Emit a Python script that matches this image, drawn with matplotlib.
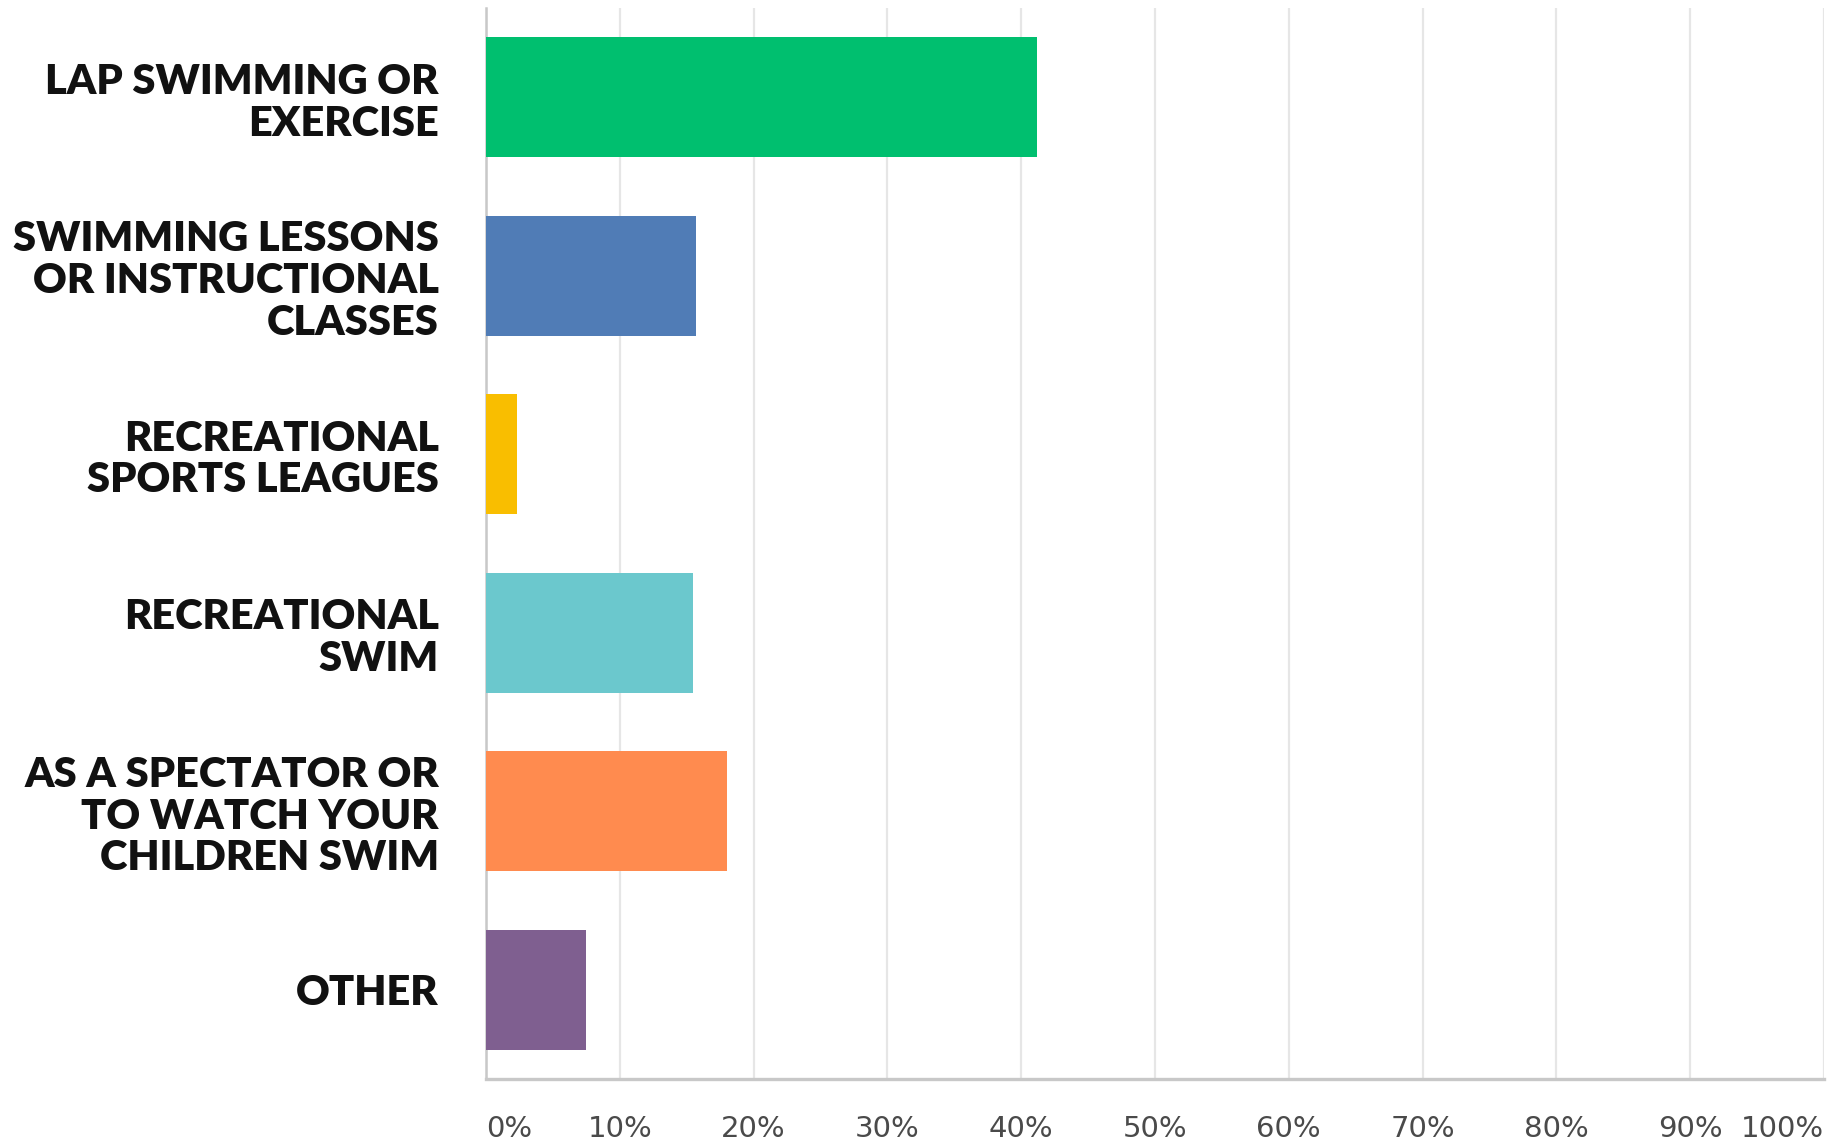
import matplotlib
matplotlib.use("Agg")
import matplotlib.pyplot as plt

# survey answers, top to bottom
categories = [
    "LAP SWIMMING OR\nEXERCISE",
    "SWIMMING LESSONS\nOR INSTRUCTIONAL\nCLASSES",
    "RECREATIONAL\nSPORTS LEAGUES",
    "RECREATIONAL\nSWIM",
    "AS A SPECTATOR OR\nTO WATCH YOUR\nCHILDREN SWIM",
    "OTHER",
]
percent = [41.2, 15.7, 2.3, 15.5, 18.0, 7.5]
colors = ["#00BF6F", "#507CB6", "#F9BE00", "#6BC8CD", "#FF8B4F", "#7F5F90"]
xticks = list(range(0, 101, 10))
xtick_labels = [f"{t}%" for t in xticks]

fig = plt.figure(figsize=(18.32, 11.48), dpi=100)
ax = fig.add_axes([0.2653, 0.0601, 0.7303, 0.9329])

ypos = list(range(len(categories)))
ax.barh(ypos, percent, height=0.67, color=colors, zorder=3)

ax.set_xlim(0, 100)
ax.set_ylim(len(categories) - 0.5, -0.5)

ax.set_yticks(ypos)
ax.set_yticklabels(categories, fontsize=30, fontweight="heavy", family=["Lato", "DejaVu Sans"],
                   linespacing=1.12, color="#111111")
ax.tick_params(axis="y", length=0, pad=34)

ax.set_xticks(xticks)
ax.set_xticklabels(xtick_labels, fontsize=21, color="#4a4a4a")
ax.tick_params(axis="x", length=0, pad=26)
labels = ax.get_xticklabels()
labels[0].set_horizontalalignment("left")
labels[-1].set_horizontalalignment("right")

ax.grid(axis="x", color="#e6e6e6", linewidth=1.6, zorder=0)
for s in ["top", "right"]:
    ax.spines[s].set_visible(False)
ax.spines["left"].set_color("#c8c8c8")
ax.spines["left"].set_linewidth(1.8)
ax.spines["bottom"].set_color("#c8c8c8")
ax.spines["bottom"].set_linewidth(2.4)

fig.savefig("out.png", dpi=100)
